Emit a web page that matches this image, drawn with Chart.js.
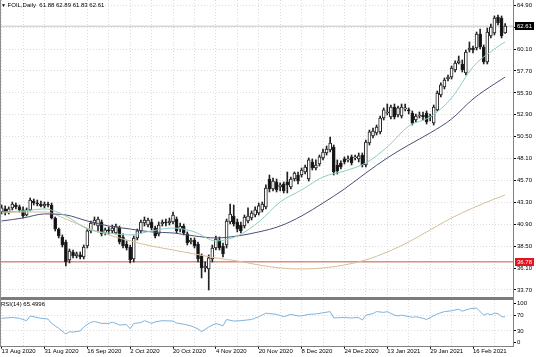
<!DOCTYPE html>
<html><head><meta charset="utf-8">
<script src="https://cdn.jsdelivr.net/npm/chart.js@4.4.1/dist/chart.umd.min.js"></script>
<style>
html,body{margin:0;padding:0;background:#fff;}
#wrap{position:relative;width:536px;height:357px;overflow:hidden;background:#fff;font-family:"Liberation Sans",Arial,sans-serif;}
#c1{position:absolute;left:0;top:0;}
#c2{position:absolute;left:0;top:300px;}
.sep{position:absolute;left:0;top:297px;width:514px;height:3px;background:#7c7c7c;}
.lft{position:absolute;left:0;top:0;width:1px;height:347px;background:#909090;}
.ttl{position:absolute;left:1px;top:2px;font-size:6px;line-height:7px;color:#000;white-space:nowrap;}
.rsi{position:absolute;left:1px;top:301px;font-size:6px;line-height:7px;color:#000;white-space:nowrap;}
</style>
</head><body>
<div id="wrap">
<canvas id="c1" width="536" height="297"></canvas>
<canvas id="c2" width="536" height="57"></canvas>
<div class="sep"></div>
<div class="lft"></div>
<div class="ttl"><span style="font-size:5px">&#9660;</span> FOIL,Daily&nbsp; 61.88 62.89 61.83 62.61</div>
<div class="rsi">RSI(14) 65.4996</div>
</div>
<script>
const dateLabels = ['13 Aug 2020','31 Aug 2020','16 Sep 2020','2 Oct 2020','20 Oct 2020','4 Nov 2020','20 Nov 2020','8 Dec 2020','24 Dec 2020','13 Jan 2021','29 Jan 2021','16 Feb 2021'];

const opens = [
42.25,42.58,42.25,42.69,43.01,42.80,42.47,41.92,42.47,43.45,
43.23,43.12,42.91,43.12,43.01,41.59,40.38,39.51,38.96,36.99,
37.86,37.43,37.54,37.32,38.52,40.17,41.04,40.71,41.15,39.95,
40.28,40.17,39.95,40.49,39.51,38.74,38.41,37.10,39.40,40.17,
41.04,40.82,41.15,40.49,39.84,40.93,41.15,41.04,41.15,41.48,
40.38,40.71,39.84,38.96,39.18,38.74,37.43,36.11,36.00,37.10,
38.30,39.18,38.52,38.63,41.15,41.81,41.15,40.82,40.71,41.26,
41.59,41.92,42.14,42.47,42.80,45.86,44.77,45.54,44.99,45.32,
45.54,44.99,45.86,46.30,46.30,46.63,45.86,47.73,47.07,47.51,
48.17,48.71,49.04,49.37,47.40,47.62,48.06,47.95,48.28,48.17,
48.06,48.49,47.40,49.81,50.58,50.91,51.02,52.55,53.10,52.66,
53.75,52.88,52.77,53.54,53.43,53.10,52.33,52.77,52.88,53.10,
52.66,52.00,53.43,55.07,55.95,56.82,57.04,57.81,58.58,58.47,
57.48,60.00,60.22,60.22,61.75,60.33,58.69,61.54,61.86,63.62,
63.51,61.88];
const highs = [
43.01,42.91,42.80,43.34,43.23,43.01,42.80,42.69,43.78,43.67,
43.56,43.45,43.34,43.34,43.23,41.70,40.49,39.73,39.18,38.19,
38.08,37.86,37.86,38.63,40.38,41.26,41.70,41.70,41.37,40.49,
40.60,40.82,40.93,40.71,39.84,39.07,38.63,39.62,40.38,41.37,
41.70,41.59,41.48,40.71,41.15,41.37,41.48,41.59,42.25,41.70,
41.04,40.93,40.06,39.40,39.40,38.96,37.65,36.77,37.54,38.63,
39.62,39.51,38.85,41.48,43.12,43.01,41.48,41.15,41.92,42.69,
42.36,42.80,43.23,43.34,45.21,46.30,45.97,45.86,45.43,45.54,
46.63,46.08,46.63,46.63,47.07,47.40,48.17,48.06,47.95,48.49,
49.15,49.48,50.47,49.59,47.95,47.84,48.28,48.39,48.49,48.49,
48.71,48.71,50.14,51.23,51.45,51.78,52.77,53.65,54.08,53.97,
54.08,53.86,54.08,54.08,53.65,53.32,52.99,53.21,53.21,53.32,
52.99,53.97,55.51,56.39,56.93,57.26,58.25,58.80,59.34,58.91,
60.00,60.88,60.44,61.97,62.30,60.55,62.41,62.85,63.73,63.84,
63.73,62.89];
const lows = [
42.03,41.92,42.03,42.47,42.58,42.25,41.59,41.81,42.36,43.01,
42.91,42.80,42.69,42.80,41.48,40.17,39.40,38.41,36.33,36.66,
37.21,37.21,37.10,37.10,38.30,39.95,40.82,40.06,39.62,39.73,
39.84,39.95,39.84,38.74,38.30,38.08,36.66,36.77,39.18,39.95,
40.71,40.60,40.28,39.40,39.62,40.71,40.71,40.82,40.93,39.95,
40.06,39.73,38.63,38.74,38.30,36.77,35.02,35.67,33.70,36.77,
38.08,38.08,37.32,38.30,40.93,40.71,40.06,39.95,40.49,41.04,
41.37,41.70,41.92,42.25,42.58,44.44,44.55,44.44,44.55,44.33,
44.33,44.77,45.64,45.32,46.08,46.41,45.64,46.85,46.85,47.29,
47.95,48.49,48.82,46.30,46.41,46.96,47.51,47.73,47.40,47.95,
47.73,47.18,47.18,49.59,50.36,50.69,50.80,52.33,52.88,52.44,
52.44,52.66,52.55,53.32,52.99,51.78,52.11,52.55,52.33,51.89,
52.22,51.78,53.32,54.85,55.73,56.60,56.82,57.59,58.47,57.59,
57.26,59.78,59.67,60.00,60.11,58.47,58.47,61.32,61.65,62.74,
61.32,61.83];
const closes = [
42.69,42.14,42.58,43.12,42.80,42.47,41.81,42.47,43.56,43.23,
43.12,42.91,43.12,43.01,41.59,40.38,39.62,38.63,36.77,37.97,
37.43,37.65,37.32,38.41,40.17,41.04,41.37,41.48,39.84,40.28,
40.17,40.49,40.71,38.96,38.52,38.30,36.99,39.40,40.17,41.15,
41.37,41.37,40.49,39.62,40.82,41.15,41.04,41.26,41.92,40.17,
40.71,39.95,38.85,39.18,38.52,37.10,36.11,36.33,37.21,38.30,
39.29,38.30,37.65,41.26,42.03,40.93,40.38,40.17,41.70,41.81,
42.14,42.47,42.91,43.12,44.88,44.77,45.64,44.66,45.21,44.55,
45.21,45.86,46.52,45.64,46.85,47.18,47.95,47.07,47.40,48.28,
48.82,49.15,49.81,46.63,46.74,47.18,47.73,48.06,47.62,48.28,
48.39,47.40,49.92,51.02,51.12,51.56,52.55,53.43,53.21,53.75,
52.66,53.65,53.75,53.65,53.32,52.00,52.77,52.88,52.66,52.11,
52.77,53.75,55.29,56.17,56.71,57.04,58.03,58.58,58.80,57.81,
59.78,60.22,60.00,61.75,60.33,58.69,61.97,62.52,63.51,62.96,
61.54,62.61];

const maBars = [0,6,12,18,24,30,36,42,48,54,60,66,72,78,84,90,96,102,108,114,120,126,132,138,141];
const maFast = [42.25,42.36,42.58,41.81,40.38,39.95,39.73,40.17,40.49,40.06,39.07,39.62,41.15,43.34,44.66,46.08,46.74,47.62,49.37,51.67,52.66,54.74,58.14,60.11,60.88];
const maMid  = [41.26,41.59,42.03,41.92,41.26,40.71,40.38,40.06,39.95,39.62,39.40,39.62,40.06,40.71,41.81,43.23,44.77,46.52,48.17,49.59,50.91,52.44,54.63,56.28,57.04];
const maSlow = [42.14,42.25,42.25,41.48,40.49,39.73,39.07,38.52,38.08,37.65,37.21,36.88,36.44,36.11,36.00,36.11,36.44,36.99,37.86,38.96,40.28,41.59,42.69,43.67,44.11];

const rsiBars = [0,3,5,7,8,11,13,14,16,18,19,20,22,23,25,26,28,30,31,32,33,35,36,37,39,40,42,43,45,48,49,51,53,55,56,58,60,62,63,65,67,69,70,72,74,77,79,81,83,84,86,88,90,92,93,96,98,100,101,102,104,105,107,108,110,111,112,115,116,118,119,122,124,126,128,129,131,133,135,136,137,138,139,140,141];
const rsiValues = [62,64,62,56,68,62,60,49,36.5,22,28,27,30,40,52,54,49,49,52,49,45,46,35.5,49,51,56,49,53,56,55,50,47,43,35,28,40,49,43,59,55,56,58,59,66,75,72,66,72,68,68,72,73,76,79,63,64,63,64,57.6,70,74,79,77,79,70,68,70,64.5,66,62,59,73,79,81,85,80,86,88,70,74,71,75,74,66,65.5];

const priceTicks = [33.70,36.10,38.50,40.90,43.30,45.70,48.10,50.50,52.90,55.30,57.70,60.10,62.50,64.90];
const rsiTicks = [0,30,70,100];
const bidPrice = 62.61;
const supportLevel = 36.78;

const X_MIN = -0.45, X_MAX = 143.2;
const gridBars = [];
for (let b = 0; b <= 138; b += 6) gridBars.push(b);
const FONT = {family:'"Liberation Sans", Arial, sans-serif', size:6, lineHeight:1};
const GRID = '#dcdcdc';

const idx = opens.map((_, i) => i);
const bodyData = idx.map(i => ({x:i, y:[opens[i], closes[i]]}));
const wickData = idx.map(i => ({x:i, y:[lows[i], highs[i]]}));
const bodyFill = idx.map(i => closes[i] >= opens[i] ? '#ffffff' : '#111111');
const maSet = (vals) => maBars.map((b, k) => ({x:b, y:vals[k]}));

const tagPlugin = {
  id:'tags',
  afterDraw(chart){
    const ctx = chart.ctx, ys = chart.scales.y, x0 = chart.chartArea.right + 2;
    [[bidPrice,'#000000'],[supportLevel,'#e3141c']].forEach(([v,col]) => {
      const py = ys.getPixelForValue(v);
      ctx.save();
      ctx.fillStyle = col;
      ctx.fillRect(x0, Math.round(py) - 4, 19, 8);
      ctx.fillStyle = '#ffffff';
      ctx.font = '6px "Liberation Sans", Arial, sans-serif';
      ctx.textBaseline = 'middle';
      ctx.fillText(v.toFixed(2), x0 + 2, Math.round(py) + 0.5);
      ctx.restore();
    });
  }
};

new Chart(document.getElementById('c1'), {
  type:'bar',
  data:{datasets:[
    {type:'line', data:maSet(maFast), borderColor:'#8ccfc2', borderWidth:1, pointRadius:0, cubicInterpolationMode:'monotone', order:0},
    {type:'line', data:maSet(maMid), borderColor:'#4e4e78', borderWidth:1, pointRadius:0, cubicInterpolationMode:'monotone', order:0},
    {type:'line', data:maSet(maSlow), borderColor:'#d6bf98', borderWidth:1, pointRadius:0, cubicInterpolationMode:'monotone', order:0},
    {type:'bar', data:bodyData, backgroundColor:bodyFill, borderColor:'#222', borderWidth:1, borderSkipped:false, barThickness:3, grouped:false, order:1},
    {type:'bar', data:wickData, backgroundColor:'#222', borderWidth:0, barThickness:1, grouped:false, order:2},
    {type:'line', data:[{x:X_MIN,y:supportLevel},{x:X_MAX,y:supportLevel}], borderColor:'#c8553d', borderWidth:1, pointRadius:0, order:3},
    {type:'line', data:[{x:X_MIN,y:bidPrice},{x:X_MAX,y:bidPrice}], borderColor:'#c4c4c4', borderWidth:1, pointRadius:0, order:4}
  ]},
  options:{
    responsive:false, animation:false, events:[],
    layout:{padding:0},
    plugins:{legend:{display:false}, tooltip:{enabled:false}},
    scales:{
      x:{type:'linear', min:X_MIN, max:X_MAX, offset:false,
        ticks:{display:false},
        grid:{color:GRID, drawTicks:false, offset:false},
        border:{display:false, dash:[1,2]},
        afterBuildTicks:s => { s.ticks = gridBars.map(v => ({value:v})); },
        afterFit:s => { s.height = 0; s.paddingLeft = 0; s.paddingRight = 0; }
      },
      y:{position:'right', min:32.93, max:65.48, beginAtZero:false,
        ticks:{callback:v => Number(v).toFixed(2), font:FONT, color:'#000', padding:1},
        grid:{color:GRID, tickLength:3, tickColor:'#000', tickWidth:1},
        border:{display:true, color:'#808080', width:1, dash:[1,2]},
        afterBuildTicks:s => { s.ticks = priceTicks.map(v => ({value:v})); },
        afterFit:s => { s.width = 23; s.paddingTop = 0; s.paddingBottom = 0; }
      }
    }
  },
  plugins:[tagPlugin]
});

new Chart(document.getElementById('c2'), {
  type:'line',
  data:{datasets:[
    {data:rsiBars.map((b,k) => ({x:b, y:rsiValues[k]})), borderColor:'#7fb3dc', borderWidth:1, pointRadius:0, tension:0}
  ]},
  options:{
    responsive:false, animation:false, events:[],
    layout:{padding:0},
    plugins:{legend:{display:false}, tooltip:{enabled:false}},
    scales:{
      x:{type:'linear', min:X_MIN, max:X_MAX, offset:false,
        ticks:{autoSkip:false, maxRotation:0, minRotation:0, align:'start', padding:0, font:FONT, color:'#000',
          callback:v => (v % 12 === 0 && dateLabels[v / 12]) ? dateLabels[v / 12] : ''},
        grid:{color:GRID, drawTicks:true, tickLength:2, offset:false,
          tickColor:c => (c.tick && c.tick.value % 12 === 0) ? '#000' : 'rgba(0,0,0,0)'},
        border:{display:true, color:'#808080', width:1, dash:[1,2]},
        afterBuildTicks:s => { s.ticks = gridBars.map(v => ({value:v})); },
        afterFit:s => { s.height = 10.3; s.paddingLeft = 0; s.paddingRight = 0; }
      },
      y:{position:'right', min:-10, max:108.4, beginAtZero:false,
        ticks:{callback:v => String(v), font:FONT, color:'#000', padding:1},
        grid:{color:c => (c.tick && (c.tick.value === 30 || c.tick.value === 70)) ? GRID : 'rgba(0,0,0,0)', tickLength:3, tickColor:'#000'},
        border:{display:true, color:'#808080', width:1, dash:[1,2]},
        afterBuildTicks:s => { s.ticks = rsiTicks.map(v => ({value:v})); },
        afterFit:s => { s.width = 23; s.paddingTop = 0; s.paddingBottom = 0; }
      }
    }
  }
});
</script>
</body></html>
